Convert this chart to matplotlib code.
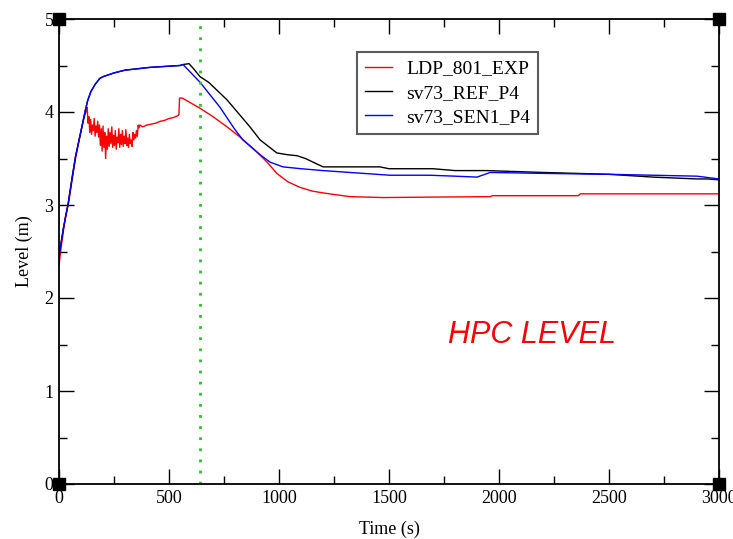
import numpy as np
import matplotlib
matplotlib.use('Agg')
import matplotlib.pyplot as plt
from matplotlib.ticker import MultipleLocator

# ---- data -------------------------------------------------------------------
# experiment, smooth parts + the noisy stretch after the first peak
exp_t = [0, 10, 20, 30, 42, 55, 75, 90, 104, 115, 125,
         128, 132, 136, 140, 144, 148, 152, 156, 160, 164, 168, 172, 176, 180,
         184, 188, 192, 196, 200, 204, 208, 212, 216, 220, 224, 228, 232, 236,
         240, 244, 248, 252, 256, 260, 264, 268, 272, 276, 280, 284, 288, 292,
         296, 300, 304, 308, 312, 316, 320, 324, 328, 332, 336, 340, 344, 348,
         352, 356, 360, 364, 368,
         380, 400, 420, 440, 460, 480, 500, 520, 540, 545, 548, 560,
         641, 700, 764, 823, 900, 950, 990, 1040, 1095, 1150, 1200, 1260, 1323,
         1400, 1473, 1700, 1960, 1970, 2360, 2370, 3000]
exp_y = [2.35, 2.55, 2.72, 2.88, 3.00, 3.20, 3.50, 3.68, 3.84, 3.95, 4.02,
         4.05, 3.88, 3.95, 3.78, 3.92, 3.76, 3.86, 3.80, 3.93, 3.74, 3.85, 3.78,
         3.90, 3.73, 3.86, 3.64, 3.82, 3.58, 3.85, 3.62, 3.78, 3.50, 3.74, 3.60,
         3.82, 3.63, 3.78, 3.66, 3.84, 3.62, 3.75, 3.64, 3.80, 3.60, 3.73, 3.67,
         3.82, 3.62, 3.76, 3.65, 3.80, 3.63, 3.74, 3.66, 3.81, 3.64, 3.72, 3.62,
         3.76, 3.66, 3.70, 3.63, 3.78, 3.70, 3.76, 3.72, 3.80, 3.74, 3.86, 3.83,
         3.86,
         3.84, 3.86, 3.87, 3.88, 3.90, 3.91, 3.93, 3.94, 3.96, 3.97, 4.15, 4.15,
         4.04, 3.95, 3.84, 3.73, 3.57, 3.45, 3.34, 3.25, 3.19, 3.15, 3.13, 3.11,
         3.09, 3.085, 3.08, 3.085, 3.09, 3.10, 3.10, 3.12, 3.12]

ref_t = [0, 20, 42, 60, 75, 104, 118, 130, 145, 165, 185, 200, 250, 300, 414,
         550, 563, 591, 610, 641, 680, 764, 868, 914, 990, 1040, 1082, 1120,
         1200, 1459, 1500, 1700, 1800, 1945, 2200, 2500, 2700, 2900, 2950, 3000]
ref_y = [2.45, 2.75, 3.02, 3.30, 3.52, 3.84, 4.00, 4.12, 4.22, 4.30, 4.36,
         4.38, 4.42, 4.45, 4.48, 4.50, 4.51, 4.52, 4.47, 4.38, 4.32, 4.13,
         3.84, 3.70, 3.56, 3.54, 3.53, 3.50, 3.41, 3.41, 3.39, 3.39, 3.37,
         3.37, 3.35, 3.33, 3.30, 3.28, 3.28, 3.27]

sen_t = [0, 20, 42, 60, 75, 104, 118, 130, 145, 165, 185, 200, 250, 300, 414,
         550, 564, 641, 732, 800, 836, 914, 960, 1018, 1100, 1200, 1505, 1686,
         1800, 1900, 1960, 2200, 2500, 2700, 2900, 3000]
sen_y = [2.45, 2.75, 3.02, 3.30, 3.52, 3.84, 4.00, 4.12, 4.22, 4.30, 4.36,
         4.38, 4.42, 4.45, 4.48, 4.50, 4.51, 4.32, 4.05, 3.81, 3.70, 3.54,
         3.46, 3.41, 3.39, 3.37, 3.32, 3.32, 3.31, 3.30, 3.35, 3.34, 3.33,
         3.32, 3.31, 3.28]

MARK_T = 641          # green dotted marker line
SERIES = ['LDP_801_EXP', 'sv73_REF_P4', 'sv73_SEN1_P4']
COLORS = {'LDP_801_EXP': '#ff0000', 'sv73_REF_P4': '#000000',
          'sv73_SEN1_P4': '#0000ff'}

# ---- plotting ----------------------------------------------------------------
plt.rcParams['font.family'] = ['Liberation Serif', 'DejaVu Serif']

fig = plt.figure(figsize=(7.33, 5.39), dpi=100)
ax = fig.add_axes([59 / 733, 1 - 484 / 539, 660 / 733, 465 / 539])

data = {'LDP_801_EXP': (exp_t, exp_y), 'sv73_REF_P4': (ref_t, ref_y),
        'sv73_SEN1_P4': (sen_t, sen_y)}
for name in SERIES:
    t, y = data[name]
    ax.plot(t, y, color=COLORS[name], lw=1.0, label=name)

ax.axvline(MARK_T, color='#33bb33', lw=2.0, ls=(0, (1, 3)))

ax.set_xlim(0, 3000)
ax.set_ylim(0, 5)
ax.xaxis.set_major_locator(MultipleLocator(500))
ax.xaxis.set_minor_locator(MultipleLocator(250))
ax.yaxis.set_major_locator(MultipleLocator(1))
ax.yaxis.set_minor_locator(MultipleLocator(0.5))
ax.tick_params(which='both', direction='in', top=True, right=True,
               labelsize=13, pad=4)
ax.tick_params(which='major', length=11, width=1)
ax.tick_params(which='minor', length=6, width=1)
for s in ax.spines.values():
    s.set_linewidth(1.3)

ax.set_xlabel('Time (s)', fontsize=13, labelpad=10)
ax.set_ylabel('Level (m)', fontsize=13, labelpad=8)

# black squares at the corners
ax.plot([0, 0, 3000, 3000], [0, 5, 0, 5], 's', color='black', ms=8,
        clip_on=False, zorder=5)

leg = ax.legend(loc='upper left', bbox_to_anchor=(0.4515, 0.929),
                fontsize=14, frameon=True, fancybox=False, handlelength=1.4,
                labelspacing=0.35, borderpad=0.4, handletextpad=0.75,
                borderaxespad=0)
leg.get_frame().set_edgecolor('#333333')
leg.get_frame().set_linewidth(1.5)

ax.text(2150, 1.6, 'HPC LEVEL', color='#ff0000', fontsize=22,
        style='italic', family='Liberation Sans', ha='center', va='center')

fig.savefig('out.png', dpi=100)
